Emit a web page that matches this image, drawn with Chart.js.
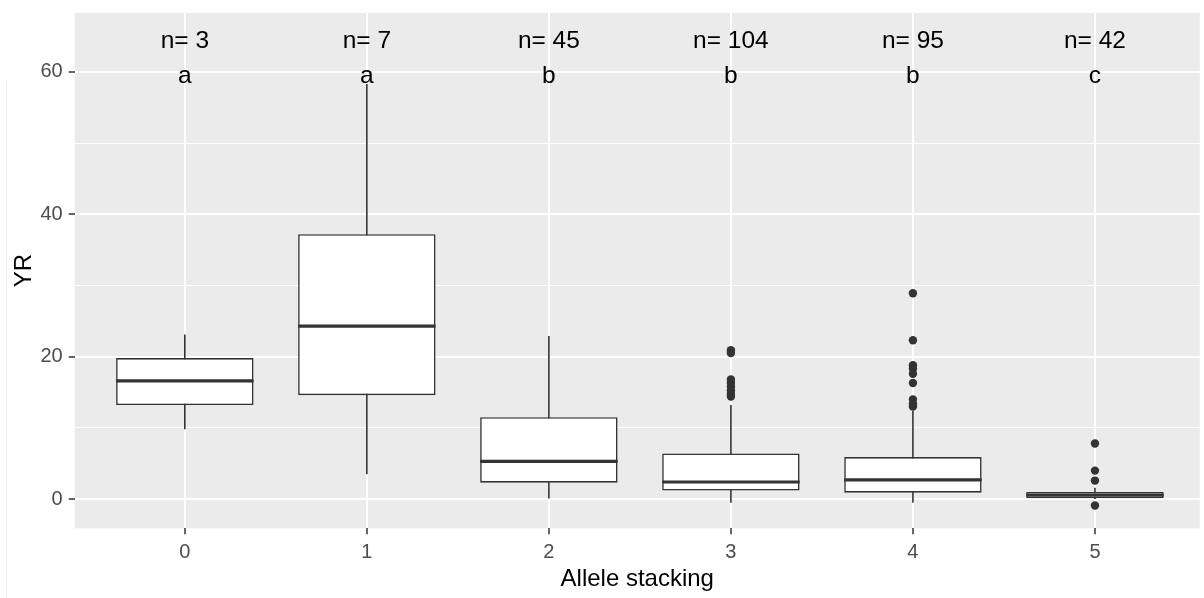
<!DOCTYPE html>
<html>
<head>
<meta charset="utf-8">
<script src="https://cdn.jsdelivr.net/npm/chart.js@4.4.1/dist/chart.umd.min.js"></script>
<style>
  html, body { margin: 0; padding: 0; background: #FFFFFF; overflow: hidden; }
  #wrap { width: 1204px; height: 598px; position: relative; }
  #c { display: block; }
</style>
</head>
<body>
<div id="wrap"><canvas id="c"></canvas></div>
<script>
// ---- data ----
const categories   = ['0', '1', '2', '3', '4', '5'];
const counts       = [3, 7, 45, 104, 95, 42];
const letters      = ['a', 'a', 'b', 'b', 'b', 'c'];
const whiskerLow   = [9.8, 3.5, 0.1, -0.5, -0.5, 0.0];
const q1           = [13.2, 14.6, 2.3, 1.2, 0.9, 0.12];
const medians      = [16.6, 24.3, 5.3, 2.4, 2.7, 0.55];
const q3           = [19.8, 37.2, 11.5, 6.4, 5.9, 1.0];
const whiskerHigh  = [23.1, 58.3, 22.9, 13.2, 12.4, 1.6];
const outliers3    = [20.9, 20.5, 16.8, 16.3, 15.8, 15.3, 14.8, 14.4];
const outliers4    = [28.9, 22.3, 18.8, 18.3, 17.6, 16.3, 14.0, 13.4, 13.0];
const outliers5    = [7.8, 4.0, 2.6, -0.9];
const yTicks       = [0, 20, 40, 60];

const FONT = '"Liberation Sans", Arial, sans-serif';
const BOX_WIDTH = 0.755;   // in category units
const N_LABEL_Y = 63.3;    // baseline (data units) of "n=" row
const LETTER_Y  = 58.4;    // baseline (data units) of letter row

const whiskerData = [];
categories.forEach((c, i) => {
  whiskerData.push({ x: i, y: whiskerLow[i] });
  whiskerData.push({ x: i, y: whiskerHigh[i] });
  whiskerData.push({ x: i, y: null });
});
const boxData = categories.map((c, i) => ({ x: i, y: [q1[i], q3[i]] }));
const medianData = categories.map((c, i) => ({ x: i, y: medians[i] }));
const outlierData = [
  ...outliers3.map(v => ({ x: 3, y: v })),
  ...outliers4.map(v => ({ x: 4, y: v })),
  ...outliers5.map(v => ({ x: 5, y: v }))
];

const panelBg = {
  id: 'panelBg',
  beforeDraw(chart) {
    const { ctx, chartArea: a } = chart;
    ctx.save();
    ctx.fillStyle = '#FFFFFF';
    ctx.fillRect(0, 0, chart.width, chart.height);
    // faint frame edge seen at the left of the original image
    ctx.strokeStyle = '#F3F3F3';
    ctx.lineWidth = 1;
    ctx.beginPath();
    ctx.moveTo(6.5, 79);
    ctx.lineTo(6.5, chart.height);
    ctx.stroke();
    ctx.fillStyle = '#EBEBEB';
    ctx.fillRect(a.left, a.top, a.right - a.left, a.bottom - a.top);
    ctx.restore();
  }
};

const annotations = {
  id: 'annotations',
  afterDatasetsDraw(chart) {
    const { ctx, scales: { x, y } } = chart;
    ctx.save();
    ctx.font = '24.5px ' + FONT;
    ctx.fillStyle = '#000000';
    ctx.textAlign = 'center';
    ctx.textBaseline = 'alphabetic';
    categories.forEach((c, i) => {
      const px = x.getPixelForValue(i);
      ctx.fillText('n= ' + counts[i], px, y.getPixelForValue(N_LABEL_Y));
      ctx.fillText(letters[i], px, y.getPixelForValue(LETTER_Y));
    });
    ctx.restore();
  }
};

const isMajor = v => yTicks.includes(v);

new Chart(document.getElementById('c'), {
  type: 'bar',
  data: {
    datasets: [
      {
        type: 'line',
        data: whiskerData,
        borderColor: '#333333',
        borderWidth: 1.6,
        pointRadius: 0,
        spanGaps: false,
        order: 3
      },
      {
        type: 'bar',
        data: boxData,
        backgroundColor: '#FFFFFF',
        borderColor: '#333333',
        borderWidth: 1.6,
        borderSkipped: false,
        grouped: false,
        categoryPercentage: BOX_WIDTH,
        barPercentage: 1,
        order: 2
      },
      {
        type: 'line',
        data: medianData,
        showLine: false,
        pointStyle: 'line',
        pointBorderColor: '#333333',
        pointBorderWidth: 3.2,
        pointRadius: (ctx) => {
          const xs = ctx.chart.scales.x;
          if (!xs) return 0;
          return xs.getPixelForValue(BOX_WIDTH / 2) - xs.getPixelForValue(0);
        },
        order: 1
      },
      {
        type: 'line',
        data: outlierData,
        showLine: false,
        pointStyle: 'circle',
        pointRadius: 4.2,
        pointBackgroundColor: '#333333',
        pointBorderWidth: 0,
        order: 0
      }
    ]
  },
  options: {
    responsive: true,
    maintainAspectRatio: false,
    animation: false,
    events: [],
    devicePixelRatio: 1,
    layout: { padding: { top: 12.7, right: 0, bottom: 0, left: 0 } },
    plugins: {
      legend: { display: false },
      tooltip: { enabled: false }
    },
    scales: {
      x: {
        type: 'linear',
        min: -0.605,
        max: 5.576,
        offset: false,
        afterFit: (s) => { s.height = 69.7; s.paddingLeft = 0; s.paddingRight = 0; },
        border: { display: false },
        grid: {
          offset: false,
          color: '#FFFFFF',
          lineWidth: 2,
          tickLength: 6,
          tickColor: '#333333',
          tickWidth: 1.5
        },
        ticks: {
          stepSize: 1,
          includeBounds: false,
          autoSkip: false,
          maxRotation: 0,
          color: '#4D4D4D',
          padding: 6,
          font: { family: FONT, size: 20 },
          callback: (v) => Number.isInteger(v) ? categories[v] : ''
        },
        title: {
          display: true,
          text: 'Allele stacking',
          color: '#000000',
          font: { family: FONT, size: 24 },
          padding: { top: 0, bottom: 4 }
        }
      },
      y: {
        type: 'linear',
        min: -4.1,
        max: 68.3,
        afterFit: (s) => { s.width = 74.7; s.paddingTop = 0; s.paddingBottom = 0; },
        border: { display: false },
        grid: {
          color: '#FFFFFF',
          lineWidth: (ctx) => (ctx.tick && isMajor(ctx.tick.value)) ? 2 : 1,
          tickLength: 6,
          tickColor: (ctx) => (ctx.tick && isMajor(ctx.tick.value)) ? '#333333' : 'rgba(0,0,0,0)',
          tickWidth: 1.5
        },
        ticks: {
          stepSize: 10,
          includeBounds: false,
          color: '#4D4D4D',
          padding: 6,
          font: { family: FONT, size: 20 },
          callback: (v) => isMajor(v) ? String(v) : ''
        },
        title: {
          display: true,
          text: 'YR',
          color: '#000000',
          font: { family: FONT, size: 24 },
          padding: { top: 10, bottom: 0 }
        }
      }
    }
  },
  plugins: [panelBg, annotations]
});
</script>
</body>
</html>
